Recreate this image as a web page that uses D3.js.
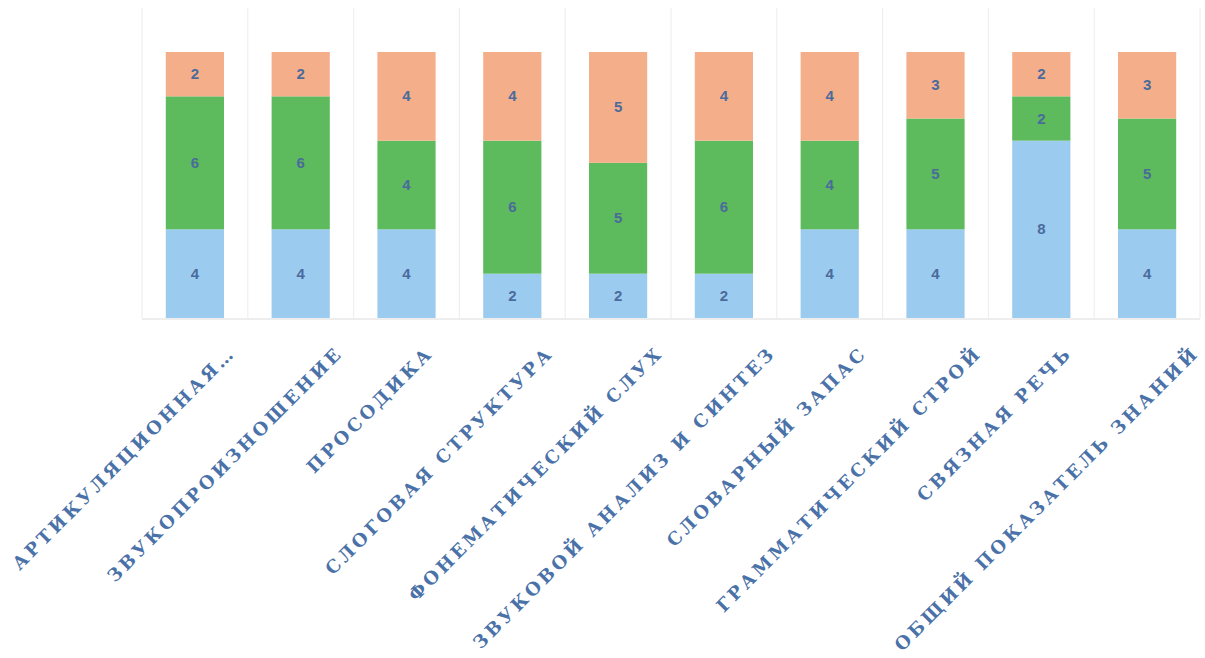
<!DOCTYPE html>
<html><head><meta charset="utf-8">
<script src="https://cdn.jsdelivr.net/npm/d3@7"></script>
<style>body{margin:0;background:#fff}</style>
</head><body>
<svg id="c" width="1205" height="658"></svg>
<script>
const categories = ["АРТИКУЛЯЦИОННАЯ…","ЗВУКОПРОИЗНОШЕНИЕ","ПРОСОДИКА","СЛОГОВАЯ СТРУКТУРА","ФОНЕМАТИЧЕСКИЙ СЛУХ","ЗВУКОВОЙ АНАЛИЗ И СИНТЕЗ","СЛОВАРНЫЙ ЗАПАС","ГРАММАТИЧЕСКИЙ СТРОЙ","СВЯЗНАЯ РЕЧЬ","ОБЩИЙ ПОКАЗАТЕЛЬ ЗНАНИЙ"];
const seriesBlue   = [4,4,4,2,2,2,4,4,8,4];
const seriesGreen  = [6,6,4,6,5,6,4,5,2,5];
const seriesOrange = [2,2,4,4,5,4,4,3,2,3];
const seriesNames = ["blue","green","orange"];
const colors = ["#9ccbf0","#5dba5d","#f5ae8a"];

const svg = d3.select("#c");
const x = d3.scaleBand().domain(categories).range([142,1200]).paddingInner(0.45).paddingOuter(0.225);
const y = d3.scaleLinear().domain([0,12]).range([318,52]);

const rows = categories.map((c,i)=>({cat:c, blue:seriesBlue[i], green:seriesGreen[i], orange:seriesOrange[i]}));
const stacked = d3.stack().keys(seriesNames)(rows);

const step = x.step();
const bounds = d3.range(categories.length+1).map(i => 142 + i*step);
svg.append("g").selectAll("line").data(bounds).join("line")
  .attr("x1",d=>d).attr("x2",d=>d).attr("y1",8).attr("y2",318)
  .attr("stroke","#efefef").attr("stroke-width",1.2);

svg.append("line").attr("x1",142).attr("x2",1200).attr("y1",319).attr("y2",319)
  .attr("stroke","#dcdcdc").attr("stroke-width",1);

stacked.forEach((s,si)=>{
  const g = svg.append("g");
  g.selectAll("rect").data(s).join("rect")
    .attr("x",d=>x(d.data.cat)).attr("width",x.bandwidth())
    .attr("y",d=>y(d[1])).attr("height",d=>y(d[0])-y(d[1]))
    .attr("fill",colors[si]);
  g.selectAll("text").data(s).join("text")
    .attr("x",d=>x(d.data.cat)+x.bandwidth()/2)
    .attr("y",d=>(y(d[0])+y(d[1]))/2+5)
    .attr("text-anchor","middle")
    .attr("font-family","Liberation Sans, Arial, sans-serif")
    .attr("font-weight","bold").attr("font-size",15)
    .attr("fill","#4a6b9c")
    .text(d=>d[1]-d[0]);
});

const xAxis = d3.axisBottom(x).tickSize(0).tickPadding(0);
const ax = svg.append("g").attr("transform","translate(0,318)").call(xAxis);
ax.select(".domain").remove();
ax.selectAll("text")
  .attr("font-family","DejaVu Serif, Liberation Serif, serif")
  .attr("font-weight","bold").attr("font-size",18)
  .attr("letter-spacing","3.3px")
  .attr("fill","#4a72a8")
  .attr("text-anchor","end")
  .attr("dy",0).attr("y",0)
  .each(function(){
    const L = this.getComputedTextLength();
    const off = 11 + 0.1*L;
    d3.select(this).attr("transform",`translate(${off},${36}) rotate(-45)`);
  });
</script>
</body></html>
